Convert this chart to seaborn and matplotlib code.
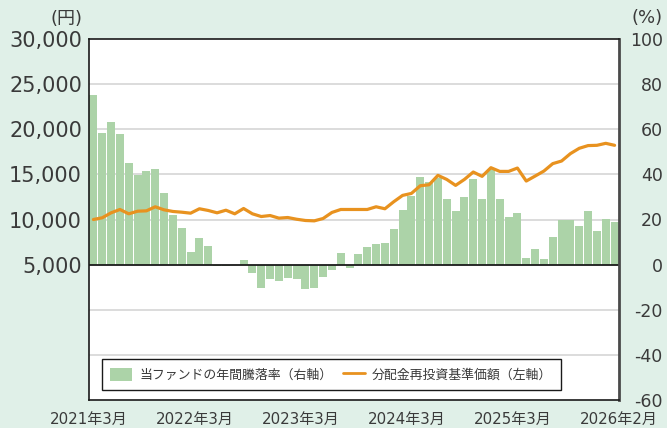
import numpy as np
import matplotlib
matplotlib.use("Agg")
import matplotlib.pyplot as plt
from matplotlib.patches import Patch
from matplotlib.lines import Line2D
import seaborn as sns

sns.set_style("white")
plt.rcParams['font.family'] = ['DejaVu Sans', 'Noto Sans CJK JP']

# ---- data ----
x_labels = ["2021年3月", "2022年3月", "2023年3月", "2024年3月", "2025年3月", "2026年2月"]
returns_pct = [75.2, 58.2, 63.1, 57.8, 44.9, 39.6, 41.4, 42.3, 31.6, 21.8, 16.4, 5.8,
               11.6, 8.4, -0.4, -0.4, 0.0, 2.2, -3.6, -10.2, -6.2, -7.1, -5.8, -6.2,
               -11.0, -10.5, -5.6, -2.5, 5.3, -1.6, 4.9, 7.6, 9.3, 9.8, 15.6, 24.4,
               30.2, 38.7, 36.4, 38.2, 29.3, 23.6, 29.8, 37.8, 28.9, 42.2, 28.9, 20.9,
               22.7, 3.1, 7.1, 2.7, 12.4, 19.6, 19.6, 16.9, 23.6, 15.1, 20.4, 19.1]
nav_yen = [10000, 10190, 10740, 11110, 10630, 10920, 10960, 11410, 11070, 10890, 10810, 10700,
           11190, 11000, 10740, 11030, 10630, 11220, 10630, 10330, 10440, 10150, 10220, 10030,
           9890, 9850, 10110, 10780, 11110, 11110, 11110, 11110, 11410, 11190, 11970, 12670,
           12890, 13740, 13850, 14890, 14440, 13780, 14440, 15260, 14780, 15740, 15330, 15330,
           15700, 14260, 14810, 15370, 16190, 16480, 17300, 17890, 18190, 18220, 18440, 18220]
left_ticks = [5000, 10000, 15000, 20000, 25000, 30000]
right_ticks = [-60, -40, -20, 0, 20, 40, 60, 80, 100]
legend_labels = ["当ファンドの年間騰落率（右軸）", "分配金再投資基準価額（左軸）"]

bg = "#e0f0e8"
bar_c = "#acd3a8"
line_c = "#e8921f"
txt_c = "#3a3a3a"

idx = np.arange(len(returns_pct))

fig = plt.figure(figsize=(6.67, 4.28), dpi=100, facecolor=bg)
ax_pct = fig.add_axes([89 / 667, 1 - 400 / 428, 530 / 667, 361 / 428])
ax_pct.set_facecolor("white")
ax_yen = ax_pct.twinx()

sns.barplot(x=idx, y=returns_pct, ax=ax_pct, color=bar_c, saturation=1,
            width=0.9, linewidth=0, errorbar=None)
sns.lineplot(x=idx, y=nav_yen, ax=ax_yen, color=line_c, linewidth=2.3)

ax_yen.set_zorder(ax_pct.get_zorder() + 1)
ax_yen.patch.set_visible(False)

# axes layout
ax_pct.set_ylim(-60, 100)
ax_yen.set_ylim(-10000, 30000)
ax_pct.set_xlim(-0.5, len(returns_pct) - 0.5)

ax_pct.yaxis.tick_right()
ax_yen.yaxis.tick_left()

ax_pct.set_yticks(right_ticks)
ax_pct.set_yticklabels([str(v) for v in right_ticks], fontsize=12.5, color=txt_c,
                       ha="right", family="DejaVu Sans")
ax_pct.tick_params(axis="y", length=0, pad=31.5)

ax_yen.set_yticks(left_ticks)
ax_yen.set_yticklabels([f"{v:,}" for v in left_ticks], fontsize=15, color=txt_c,
                       family="DejaVu Sans")
ax_yen.tick_params(axis="y", length=0, pad=5)
ax_yen.set_ylabel("")
ax_pct.set_ylabel("")
ax_pct.set_xlabel("")

xt = [-0.5 + 12 * i for i in range(len(x_labels))]
xt[-1] = len(returns_pct) - 0.5
ax_pct.set_xticks(xt)
ax_pct.set_xticklabels(x_labels, fontsize=10.8, color=txt_c,
                       family=["DejaVu Sans", "Noto Sans CJK JP"])
ax_pct.tick_params(axis="x", direction="in", length=5, width=1, color="black", pad=8.5)

# grid and zero line
ax_pct.set_axisbelow(True)
for v in [-40, -20, 20, 40, 60, 80]:
    ax_pct.axhline(v, color="#d2d2d2", lw=1.1, zorder=0)
ax_pct.axhline(0, color="#1a1a1a", lw=1.3, zorder=2.5)

for s in ax_yen.spines.values():
    s.set_visible(False)
for name, s in ax_pct.spines.items():
    s.set_visible(True)
    s.set_color("#1a1a1a")
    s.set_linewidth(1.2)
ax_pct.spines["right"].set_color("#4a4a4a")
ax_pct.spines["right"].set_linewidth(2)

# unit labels
fig.text(82 / 667, 1 - 19 / 428, "(円)", ha="right", va="center", fontsize=13,
         color=txt_c, family=["DejaVu Sans", "Noto Sans CJK JP"])
fig.text(663 / 667, 1 - 18 / 428, "(%)", ha="right", va="center", fontsize=13,
         color=txt_c, family="DejaVu Sans")

# legend
handles = [Patch(facecolor=bar_c, edgecolor="none"),
           Line2D([], [], color=line_c, lw=2)]
leg = ax_yen.legend(handles, legend_labels, loc="lower left",
                    bbox_to_anchor=(13 / 530, 10 / 361), ncol=2, frameon=True,
                    fancybox=False, framealpha=1, edgecolor="#1a1a1a",
                    prop={"family": "Noto Sans CJK JP", "size": 9.3},
                    handlelength=1.7, handleheight=1.2, columnspacing=0.8,
                    handletextpad=0.55, borderpad=0.65, borderaxespad=0)
leg.get_frame().set_linewidth(1)
for t in leg.get_texts():
    t.set_color(txt_c)

fig.savefig("out.png", dpi=100, facecolor=bg)
